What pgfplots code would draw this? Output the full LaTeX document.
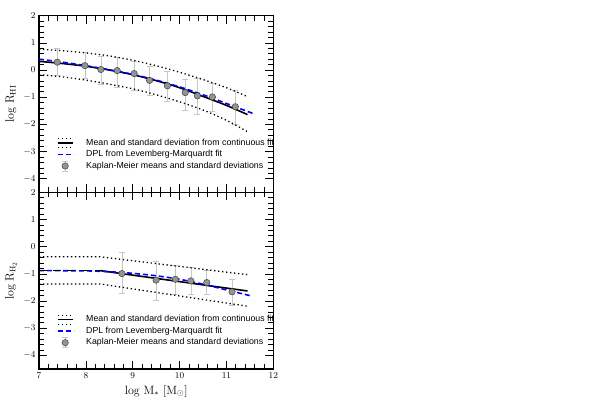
\documentclass[border=0pt]{standalone}
\usepackage{fontspec}
\usepackage{pgfplots}
\usepackage{pgfplotstable}
\pgfplotsset{compat=1.18}
\newfontfamily\legfont{Liberation Sans}

\pgfplotstableread{
x y
7 0.32
7.5 0.24
8 0.14
8.5 0.00
9 -0.17
9.5 -0.39
10 -0.65
10.5 -0.97
11 -1.30
11.45 -1.64
}\hiMean
\pgfplotstableread{
x y
7 0.77
7.5 0.71
8 0.63
8.5 0.52
9 0.36
9.5 0.16
10 -0.08
10.5 -0.35
11 -0.65
11.45 -0.98
}\hiUp
\pgfplotstableread{
x y
7 -0.17
7.5 -0.25
8 -0.37
8.5 -0.52
9 -0.69
9.5 -0.91
10 -1.17
10.5 -1.47
11 -1.85
11.45 -2.27
}\hiLow
\pgfplotstableread{
x y
7 0.40
7.5 0.29
8 0.16
8.5 0.01
9 -0.16
9.5 -0.37
10 -0.62
10.5 -0.91
11 -1.23
11.6 -1.62
}\hiDPL
\pgfplotstableread{
x y ep em
7.39 0.29 0.51 0.47
7.98 0.16 0.48 0.47
8.32 0.02 0.49 0.53
8.67 -0.02 0.49 0.62
9.03 -0.13 0.46 0.61
9.36 -0.38 0.50 0.56
9.74 -0.58 0.52 0.58
10.12 -0.83 0.49 0.64
10.38 -0.95 0.64 0.68
10.70 -0.99 0.50 0.51
11.19 -1.35 0.61 0.64
}\hiKM

\pgfplotstableread{
x y
7 -0.88
8.3 -0.88
}\hTwoMeanFlat
\pgfplotstableread{
x y
8.3 -0.88
11.45 -1.63
}\hTwoMean
\pgfplotstableread{
x y
7 -0.37
8.3 -0.37
11.45 -1.03
}\hTwoUp
\pgfplotstableread{
x y
7 -1.37
8.3 -1.37
11.45 -2.19
}\hTwoLow
\pgfplotstableread{
x y
7 -0.88
8 -0.89
8.5 -0.92
9 -0.98
9.5 -1.07
10 -1.20
10.5 -1.38
11 -1.59
11.55 -1.82
}\hTwoDPL
\pgfplotstableread{
x y ep em
8.77 -0.99 0.77 0.73
9.50 -1.23 0.70 0.74
9.91 -1.20 0.53 0.55
10.24 -1.26 0.51 0.51
10.58 -1.32 0.45 0.45
11.12 -1.66 0.46 0.49
}\hTwoKM

\pgfplotsset{
  panel/.style={
    scale only axis, width=234.3pt, height=176.65pt,
    xmin=7, xmax=12, ymin=-4.5, ymax=2,
    xtick={7,8,9,10,11,12}, ytick={-4,-3,-2,-1,0,1,2},
    minor x tick num=4, minor y tick num=4,
    tick align=inside, xtick pos=both, ytick pos=both,
    major tick length=8pt, minor tick length=5pt,
    axis line style={line width=1.1pt},
    every tick/.style={black, line width=0.7pt},
    tick label style={font=\fontsize{9}{10}\selectfont},
    label style={font=\fontsize{12}{14}\selectfont},
    ylabel style={at={(axis description cs:-0.12,0.5)}, anchor=center},
    legend style={draw=none, fill=none, font=\legfont\fontsize{8.8}{10}\selectfont,
      at={(axis description cs:0.0755,0.214)}, anchor=west, inner sep=0pt,
      row sep=0pt, nodes={inner sep=1.5pt, text height=6.5pt, text depth=2pt}},
    legend cell align=left,
  },
  dotband/.style={black, line width=1.3pt, dash pattern=on 1.3pt off 2.7pt},
  meanline/.style={black, line width=1.6pt},
  dplline/.style={blue, line width=1.6pt, dash pattern=on 5pt off 3pt},
  kmerr/.style={only marks, mark=none, forget plot,
    error bars/.cd, y dir=both, y explicit,
    error bar style={black!22, line width=0.6pt},
    error mark options={rotate=90, mark size=3pt, black!22, line width=0.6pt}},
  kmmark/.style={only marks, mark=*, mark size=3.2pt, forget plot,
    mark options={fill=black!42, draw=black!75, line width=0.5pt}},
  legA/.style={legend image code/.code={
    \draw[overlay, black, solid, line width=1.3pt, dash pattern=on 1.3pt off 2.7pt] (0pt,4.5pt) -- (15pt,4.5pt);
    \draw[black, solid, line width=1.6pt] (0pt,0pt) -- (15pt,0pt);
    \draw[overlay, black, solid, line width=1.3pt, dash pattern=on 1.3pt off 2.7pt] (0pt,-4.5pt) -- (15pt,-4.5pt);
    \path[draw=none, fill=none] (0pt,0pt) -- (27pt,0pt);}},
  legB/.style={legend image code/.code={
    \draw[blue, solid, line width=1.6pt, dash pattern=on 5pt off 3pt] (0pt,0pt) -- (16pt,0pt);
    \path[draw=none, fill=none] (0pt,0pt) -- (27pt,0pt);}},
  legC/.style={legend image code/.code={
    \draw[overlay, black!22, solid, line width=0.6pt] (7.5pt,-5pt) -- (7.5pt,5pt);
    \draw[overlay, black!22, solid, line width=0.6pt] (4.5pt,-5pt) -- (10.5pt,-5pt);
    \draw[overlay, black!22, solid, line width=0.6pt] (4.5pt,5pt) -- (10.5pt,5pt);
    \filldraw[fill=black!42, draw=black!75, solid, line width=0.5pt] (7.5pt,0pt) circle (3.2pt);
    \path[draw=none, fill=none] (0pt,0pt) -- (27pt,0pt);}},
}

\begin{document}
\begin{tikzpicture}[x=1pt,y=1pt]
\path[use as bounding box] (0,0) rectangle (598,401);

\begin{axis}[panel, at={(39pt,385.3pt)}, anchor=north west,
  xticklabels={}, ylabel={$\mathrm{log\ R_{HI}}$}]
  \addplot[kmerr] table[x=x, y=y, y error plus=ep, y error minus=em] {\hiKM};
  \addplot[dotband, smooth, forget plot] table {\hiUp};
  \addplot[dotband, smooth, forget plot] table {\hiLow};
  \addplot[meanline, smooth, forget plot] table {\hiMean};
  \addplot[dplline, smooth, forget plot] table {\hiDPL};
  \addplot[kmmark] table[x=x, y=y] {\hiKM};
  \addlegendimage{legA}
  \addlegendentry{Mean and standard deviation from continuous fit}
  \addlegendimage{legB}
  \addlegendentry{DPL from Levemberg-Marquardt fit}
  \addlegendimage{legC}
  \addlegendentry{Kaplan-Meier means and standard deviations}
\end{axis}

\begin{axis}[panel, at={(39pt,208.65pt)}, anchor=north west,
  xlabel={$\mathrm{log\ M_{*}\ [M_{\odot}]}$}, ylabel={$\mathrm{log\ R_{H_2}}$}]
  \addplot[kmerr] table[x=x, y=y, y error plus=ep, y error minus=em] {\hTwoKM};
  \addplot[dotband, forget plot] table {\hTwoUp};
  \addplot[dotband, forget plot] table {\hTwoLow};
  \addplot[meanline, forget plot] table {\hTwoMean};
  \addplot[dplline, smooth, forget plot] table {\hTwoDPL};
  \addplot[meanline, dash pattern=on 8pt off 6pt, forget plot] table {\hTwoMeanFlat};
  \addplot[kmmark] table[x=x, y=y] {\hTwoKM};
  \addlegendimage{legA}
  \addlegendentry{Mean and standard deviation from continuous fit}
  \addlegendimage{legB}
  \addlegendentry{DPL from Levemberg-Marquardt fit}
  \addlegendimage{legC}
  \addlegendentry{Kaplan-Meier means and standard deviations}
\end{axis}
\end{tikzpicture}
\end{document}
